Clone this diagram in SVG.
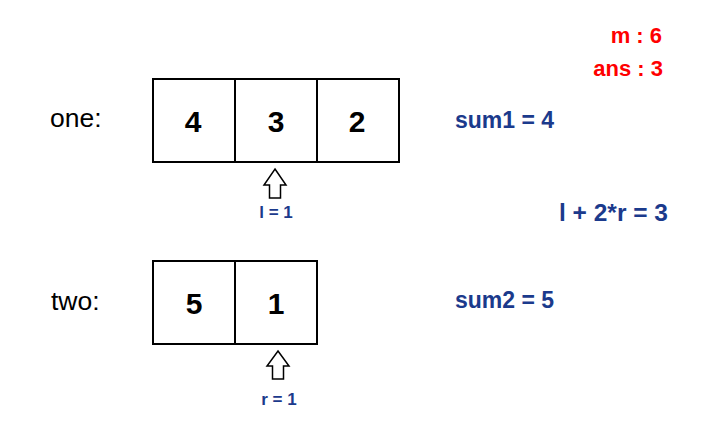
<svg xmlns="http://www.w3.org/2000/svg" width="702" height="441" viewBox="0 0 702 441">
<style>
.cell{fill:#fff;stroke:#000;stroke-width:2}
.num{font-family:"Liberation Sans",Arial,sans-serif;font-weight:bold;font-size:30px;text-anchor:middle}
.lbl{font-family:"Liberation Sans",Arial,sans-serif;font-size:26.5px}
.blue{font-family:"Liberation Sans",Arial,sans-serif;font-weight:bold;font-size:23px;fill:#1b3a8c}
.small{font-family:"Liberation Sans",Arial,sans-serif;font-weight:bold;font-size:17px;fill:#1b3a8c;text-anchor:middle}
.red{font-family:"Liberation Sans",Arial,sans-serif;font-weight:bold;font-size:22px;fill:#ff0000;text-anchor:end}
.arrow{fill:#fff;stroke:#000;stroke-width:1.5}
</style>
<rect width="702" height="441" fill="#fff"/>
<g id="label-one"><text class="lbl" x="50" y="127">one:</text></g>
<g id="label-two"><text class="lbl" x="51" y="310">two:</text></g>
<g id="one-0"><rect class="cell" x="153" y="79" width="82" height="83"/><text class="num" x="193" y="132">4</text></g>
<g id="one-1"><rect class="cell" x="235" y="79" width="82" height="83"/><text class="num" x="276" y="132">3</text></g>
<g id="one-2"><rect class="cell" x="317" y="79" width="82" height="83"/><text class="num" x="357" y="132">2</text></g>
<g id="two-0"><rect class="cell" x="153" y="261" width="82" height="83"/><text class="num" x="194" y="314">5</text></g>
<g id="two-1"><rect class="cell" x="235" y="261" width="82" height="83"/><text class="num" x="276" y="314">1</text></g>
<g id="pointer-l"><path class="arrow" d="M275 169 L286 185 L280.5 185 L280.5 198 L269.5 198 L269.5 185 L264 185 Z"/><text class="small" x="276" y="218">l = 1</text></g>
<g id="pointer-r"><path class="arrow" d="M278 351 L289 366 L283.5 366 L283.5 379 L272.5 379 L272.5 366 L267 366 Z"/><text class="small" x="279" y="405">r = 1</text></g>
<g id="sum1"><text class="blue" x="455" y="128">sum1 = 4</text></g>
<g id="expr"><text class="blue" x="559" y="221" style="font-size:24.5px">l + 2*r = 3</text></g>
<g id="sum2"><text class="blue" x="455" y="308">sum2 = 5</text></g>
<g id="m"><text class="red" x="662" y="43">m : 6</text></g>
<g id="ans"><text class="red" x="663" y="76">ans : 3</text></g>
<g id="connectors"></g>
</svg>
